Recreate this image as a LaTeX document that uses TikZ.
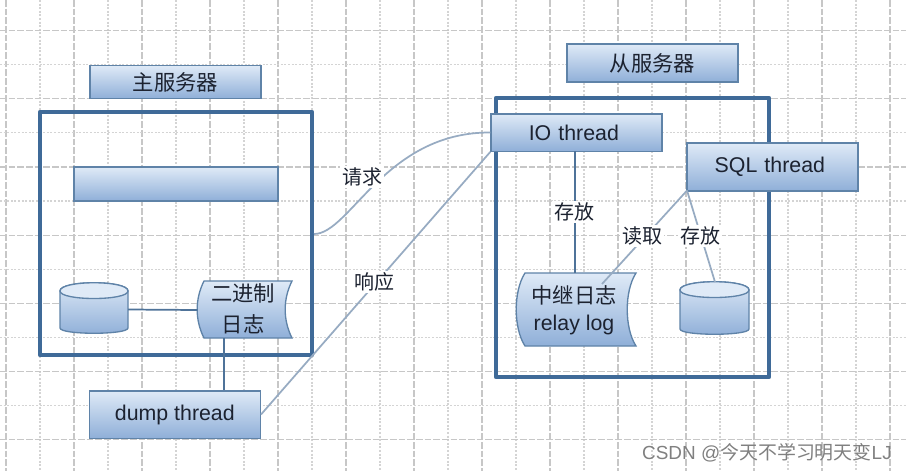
\documentclass[tikz,border=0pt]{standalone}
\usepackage{fontspec}
\setmainfont{Liberation Sans}
\newfontfamily\cjk{Noto Sans CJK SC}
\definecolor{frameblue}{HTML}{3F6A98}
\definecolor{edgeblue}{HTML}{5F83A8}
\definecolor{linkgrey}{HTML}{97ABC2}
\definecolor{linkdark}{HTML}{4F7399}
\definecolor{topfill}{HTML}{DFEAF7}
\definecolor{botfill}{HTML}{8FAFD8}
\definecolor{inkdark}{HTML}{1C2230}
\tikzset{
  x=0.75pt,y=-0.75pt,
  majorgrid/.style={draw=black!22,line width=0.9pt,dash pattern=on 5pt off 1.5pt},
  minorgrid/.style={draw=black!17,line width=0.9pt,dash pattern=on 1.5pt off 1.2pt},
  frame/.style={draw=frameblue,line width=3.3pt,line join=round},
  shade fill/.style={top color=topfill,bottom color=botfill,draw=edgeblue,line width=1pt},
  bluebox/.style={shade fill,rectangle,inner sep=0pt,text=inkdark,font=\fontsize{16}{19}\selectfont},
  plaintext/.style={inner sep=1.5pt,text=inkdark,font=\fontsize{16}{19}\selectfont},
  edgelabel/.style={plaintext,fill=white},
  linkline/.style={draw=linkgrey,line width=1.3pt},
  holdline/.style={draw=linkdark,line width=1.3pt},
}
% name, left, right, top, bottom, inset
\newcommand{\wavedoc}[6]{%
  \path[shade fill] (#2+#6,#4) -- (#3,#4)
    .. controls (#3-#6*1.3,#4+18) and (#3-#6*1.3,#5-18) .. (#3,#5)
    -- (#2+#6,#5)
    .. controls (#2-#6*0.3,#5-18) and (#2-#6*0.3,#4+18) .. (#2+#6,#4) -- cycle;
  \coordinate (#1) at ({(#2+#3)/2},{(#4+#5)/2});
}
% name, left, right, top, bottom
\newcommand{\drum}[5]{%
  \path[shade fill] (#2,#4+9) -- (#2,#5-9)
    .. controls (#2,#5-2) and (#3,#5-2) .. (#3,#5-9)
    -- (#3,#4+9)
    .. controls (#3,#4-2) and (#2,#4-2) .. (#2,#4+9) -- cycle;
  \path[draw=edgeblue,line width=1pt,fill=topfill] (#2,#4+9)
    .. controls (#2,#4-2) and (#3,#4-2) .. (#3,#4+9)
    .. controls (#3,#4+19) and (#2,#4+19) .. (#2,#4+9) -- cycle;
  \coordinate (#1) at ({(#2+#3)/2},{(#4+#5)/2});
}
\begin{document}
\begin{tikzpicture}
\useasboundingbox (0,0) rectangle (906,471);
\fill[white] (0,0) rectangle (906,471);
% grid
\foreach \k in {0,2,...,26} \draw[majorgrid] ({6+34*\k},0) -- ({6+34*\k},471);
\foreach \k in {1,3,...,25} \draw[minorgrid] ({6+34*\k},0) -- ({6+34*\k},471);
\foreach \k in {0,2,...,12} \draw[majorgrid] (0,{30.5+34.1*\k}) -- (906,{30.5+34.1*\k});
\foreach \k in {1,3,...,11} \draw[minorgrid] (0,{30.5+34.1*\k}) -- (906,{30.5+34.1*\k});
% frames
\draw[frame] (40,112) rectangle (312,355);
\draw[frame] (496,98) rectangle (769,377);
% titles
\node[bluebox,minimum width=128.25pt,minimum height=25pt,font=\cjk\fontsize{16}{19}\selectfont] (mastertitle) at (175.5,82) {主服务器};
\node[bluebox,minimum width=128.25pt,minimum height=28.5pt,font=\cjk\fontsize{16}{19}\selectfont] (slavetitle) at (652.5,63) {从服务器};
% master parts
\node[bluebox,minimum width=153pt,minimum height=25.5pt] (blank) at (176,184) {};
\drum{masterdb}{60}{128}{282}{337}
\wavedoc{binlog}{197}{292}{281}{338}{7}
\node[plaintext,font=\cjk\fontsize{16}{23}\selectfont,align=center] (binlogtext) at (243,309) {二进制\\日志};
\node[bluebox,minimum width=128.25pt,minimum height=35.5pt,xshift=-0.5pt] (dump) at (175.5,414.5) {dump thread};
% slave parts
\node[bluebox,minimum width=128.25pt,minimum height=28pt,text width=124pt,align=center] (io) at (576.5,132.5) {\hspace*{-4pt}IO thread};
\node[bluebox,minimum width=128.25pt,minimum height=36pt,text width=124pt,align=center] (sql) at (772.5,167) {\hspace*{-4pt}SQL thread};
\wavedoc{relay}{516}{636}{273}{346}{9}
\node[plaintext,align=center] (relaytext) at (574,310) {{\cjk 中继日志}\\[1pt]relay log};
\drum{slavedb}{680}{749}{281}{338}
% connectors
\coordinate (masterout) at (314,234);
\coordinate (dbjoin) at (197.5,310);
\coordinate (binout) at (224,338);
\coordinate (relayin) at (575,273);
\coordinate (ioout) at (575,151);
\coordinate (sqlcorner) at (687,190.5);
\coordinate (relaytip) at (602,284);
\coordinate (slavedbtop) at (715,282);
\draw[holdline] (masterdb.center) ++(34,0) -- (dbjoin);
\draw[holdline] (binout) -- (binout |- dump.north);
\draw[linkline] (masterout) .. controls (350,234) and (385,132) .. (io.west);
\draw[linkline] (dump.east) -- (io.south west);
\draw[holdline] (ioout) -- (relayin);
\draw[linkline] (sqlcorner) -- (relaytip);
\draw[linkline] (sqlcorner) -- (slavedbtop);
% labels
\node[edgelabel,font=\cjk\fontsize{15}{18}\selectfont] (lbla) at (362,177) {请求};
\node[edgelabel,font=\cjk\fontsize{15}{18}\selectfont] (lblb) at (374,282) {响应};
\node[edgelabel,font=\cjk\fontsize{15}{18}\selectfont] (lblc) at (574,212) {存放};
\node[edgelabel,font=\cjk\fontsize{15}{18}\selectfont] (lbld) at (642,236) {读取};
\node[edgelabel,font=\cjk\fontsize{15}{18}\selectfont] (lble) at (700,236) {存放};
% watermark
\node[inner sep=0pt,anchor=east,text=black!50,font=\fontsize{14.2}{16}\selectfont] (mark) at (892,453) {CSDN @{\cjk 今天不学习明天变}LJ};
\end{tikzpicture}
\end{document}
